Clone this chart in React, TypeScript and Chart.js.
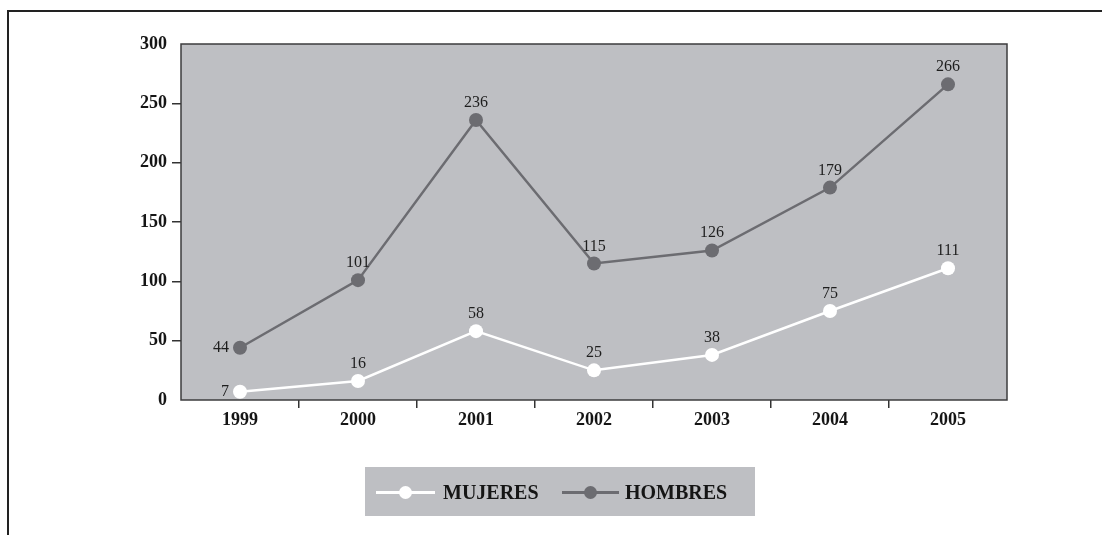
import React, { useEffect, useRef } from "react";
import { Chart, registerables } from "chart.js";

Chart.register(...registerables);

const years = ["1999", "2000", "2001", "2002", "2003", "2004", "2005"];
const mujeres = [7, 16, 58, 25, 38, 75, 111];
const hombres = [44, 101, 236, 115, 126, 179, 266];
const seriesNames = ["MUJERES", "HOMBRES"];

const W = 1102;
const H = 535;
const SERIF = "'Liberation Serif', 'DejaVu Serif', serif";
const PANEL = "#bebfc3";
const DARK_LINE = "#6c6c71";
const INK = "#151515";
const CLEAR = "rgba(0,0,0,0)";

// Outer frame, gray plotting panel and its border
const framePlugin = {
  id: "frame",
  beforeDraw(chart: any) {
    const { ctx, chartArea: a } = chart;
    ctx.save();
    ctx.fillStyle = "#fff";
    ctx.fillRect(0, 0, W, H);
    ctx.fillStyle = "#222";
    ctx.fillRect(7, 10, W - 7, 2);
    ctx.fillRect(7, 10, 2, H - 10);
    ctx.fillStyle = PANEL;
    ctx.fillRect(a.left, a.top, a.right - a.left, a.bottom - a.top);
    ctx.restore();
  },
  beforeDatasetsDraw(chart: any) {
    const { ctx, chartArea: a } = chart;
    ctx.save();
    ctx.strokeStyle = "#3c3c3e";
    ctx.lineWidth = 1.5;
    ctx.strokeRect(a.left, a.top, a.right - a.left, a.bottom - a.top);
    ctx.restore();
  },
};

// Value labels above each point (left of the first one)
const valueLabels = {
  id: "valueLabels",
  afterDatasetsDraw(chart: any) {
    const { ctx } = chart;
    ctx.save();
    ctx.font = `16px ${SERIF}`;
    ctx.fillStyle = "#1e1e1e";
    chart.data.datasets.forEach((ds: any, di: number) => {
      const meta = chart.getDatasetMeta(di);
      meta.data.forEach((pt: any, i: number) => {
        const v = String(ds.data[i]);
        if (i === 0) {
          ctx.textAlign = "right";
          ctx.textBaseline = "middle";
          ctx.fillText(v, pt.x - 11, pt.y);
        } else {
          ctx.textAlign = "center";
          ctx.textBaseline = "alphabetic";
          ctx.fillText(v, pt.x, pt.y - 13);
        }
      });
    });
    ctx.restore();
  },
};

// Boxed legend below the chart
const boxedLegend = {
  id: "boxedLegend",
  afterDraw(chart: any) {
    const { ctx } = chart;
    const box = { x: 365, y: 467, w: 390, h: 49 };
    ctx.save();
    ctx.fillStyle = PANEL;
    ctx.fillRect(box.x, box.y, box.w, box.h);
    const cy = box.y + box.h / 2 + 1;
    const items = [
      { x0: 376, x1: 435, tx: 443 },
      { x0: 562, x1: 619, tx: 625 },
    ];
    chart.data.datasets.forEach((ds: any, i: number) => {
      const it = items[i];
      ctx.strokeStyle = ds.borderColor;
      ctx.lineWidth = 3;
      ctx.beginPath();
      ctx.moveTo(it.x0, cy);
      ctx.lineTo(it.x1, cy);
      ctx.stroke();
      ctx.fillStyle = ds.pointBackgroundColor;
      ctx.beginPath();
      ctx.arc((it.x0 + it.x1) / 2, cy, 6.5, 0, Math.PI * 2);
      ctx.fill();
      ctx.fillStyle = INK;
      ctx.font = `bold 20px ${SERIF}`;
      ctx.textAlign = "left";
      ctx.textBaseline = "middle";
      ctx.fillText(ds.label, it.tx, cy + 1);
    });
    ctx.restore();
  },
};

export default function App() {
  const ref = useRef<HTMLCanvasElement | null>(null);

  useEffect(() => {
    if (!ref.current) return;
    const chart = new Chart(ref.current, {
      type: "line",
      data: {
        labels: years,
        datasets: [
          {
            label: seriesNames[0],
            data: mujeres,
            borderColor: "#ffffff",
            backgroundColor: "#ffffff",
            pointBackgroundColor: "#ffffff",
            pointBorderWidth: 0,
            pointRadius: 7,
            borderWidth: 2.5,
            tension: 0,
          },
          {
            label: seriesNames[1],
            data: hombres,
            borderColor: DARK_LINE,
            backgroundColor: DARK_LINE,
            pointBackgroundColor: DARK_LINE,
            pointBorderWidth: 0,
            pointRadius: 7,
            borderWidth: 2.5,
            tension: 0,
          },
        ],
      },
      options: {
        responsive: false,
        animation: false,
        devicePixelRatio: 1,
        layout: { padding: { left: 0, right: 95, top: 44, bottom: 0 } },
        plugins: {
          legend: { display: false },
          tooltip: { enabled: false },
        },
        scales: {
          x: {
            offset: true,
            border: { display: false },
            grid: {
              offset: true,
              drawOnChartArea: false,
              drawTicks: true,
              tickLength: 8,
              lineWidth: 1.5,
              // only the separators between categories get a tick mark
              color: (c: any) =>
                c.type !== "tick" || c.index === 0 ? CLEAR : "#333",
            },
            ticks: {
              color: INK,
              padding: 2,
              font: { family: SERIF, size: 18, weight: "bold" },
            },
            afterFit: (s: any) => {
              s.height = 135;
            },
          },
          y: {
            min: 0,
            max: 300,
            border: { display: false },
            grid: {
              drawOnChartArea: false,
              drawTicks: true,
              tickLength: 9,
              lineWidth: 1.5,
              color: (c: any) =>
                !c.tick || c.tick.value === 0 || c.tick.value === 300 ? CLEAR : "#333",
            },
            ticks: {
              stepSize: 50,
              color: INK,
              padding: 5,
              font: { family: SERIF, size: 18, weight: "bold" },
            },
            afterFit: (s: any) => {
              s.width = 181;
            },
          },
        },
      },
      plugins: [framePlugin, valueLabels, boxedLegend],
    });
    return () => chart.destroy();
  }, []);

  return (
    <div style={{ position: "fixed", left: 0, top: 0, width: W, height: H, background: "#fff" }}>
      <canvas ref={ref} width={W} height={H} style={{ display: "block" }} />
    </div>
  );
}
